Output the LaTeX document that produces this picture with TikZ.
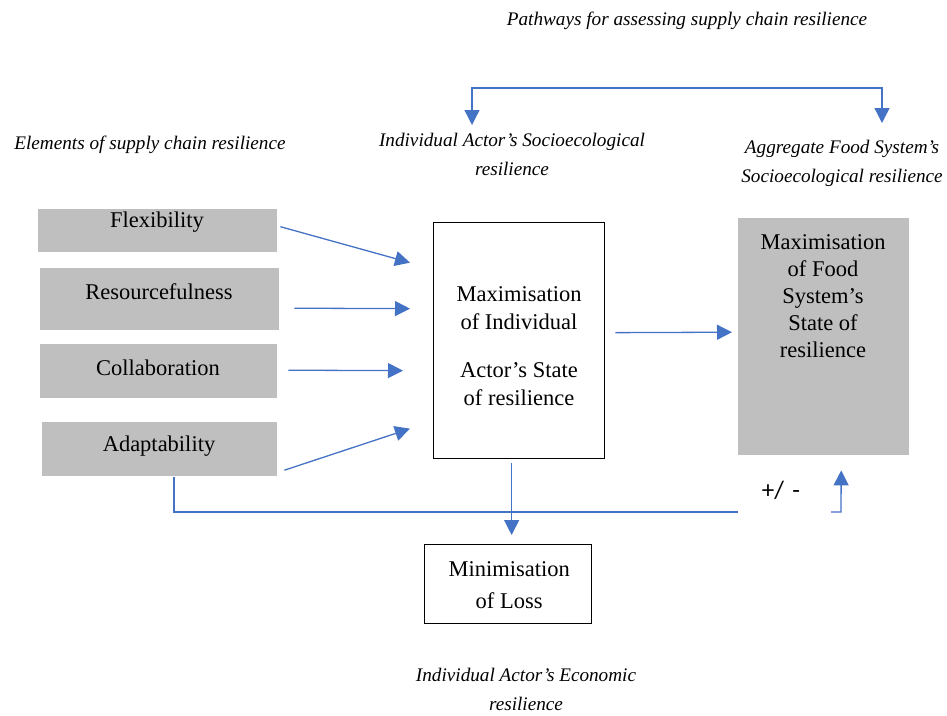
\documentclass[tikz,border=0pt]{standalone}
\usepackage{fontspec}
\setmainfont{Liberation Serif}
\newfontfamily\plusfont{Carlito}
\usetikzlibrary{arrows.meta,calc}
\definecolor{boxgrey}{HTML}{BFBFBF}
\definecolor{linkblue}{HTML}{4472C4}
\begin{document}
\begin{tikzpicture}[x=1pt,y=-1pt,
  every node/.style={font=\fontsize{22.5}{28}\selectfont, inner sep=0pt},
  greybox/.style={fill=boxgrey, draw=none, anchor=north west},
  whitebox/.style={draw=black, line width=1.3pt, fill=white, anchor=north west},
  caption/.style={font=\fontsize{19.2}{29}\selectfont\itshape, align=center},
  link/.style={draw=linkblue, line width=1.3pt},
  arr/.style={link, -{Triangle[length=15pt,width=15pt]}}]
\useasboundingbox (0,0) rectangle (947,715);

% headings
\node[caption] (title) at (687,21) {Pathways for assessing supply chain resilience};
\node[caption] (elements) at (150,145) {Elements of supply chain resilience};
\node[caption] (indsoc) at (512,154) {Individual Actor's Socioecological\\resilience};
\node[caption] (aggsoc) at (842,163) {Aggregate Food System's\\Socioecological resilience};
\node[caption] (econ) at (526,689) {Individual Actor's Economic\\resilience};

% elements of resilience
\node[greybox, minimum width=239, minimum height=43] (flex) at (38,209) {};
\node (flexT) at (157,222) {Flexibility};
\node[greybox, minimum width=239, minimum height=62] (res) at (40,268) {};
\node (resT) at (159,292) {Resourcefulness};
\node[greybox, minimum width=237, minimum height=54] (coll) at (40,344) {};
\node (collT) at (158,368) {Collaboration};
\node[greybox, minimum width=235, minimum height=54] (adapt) at (42,422) {};
\node (adaptT) at (159,446) {Adaptability};

% states of resilience
\node[whitebox, minimum width=171, minimum height=236] (actor) at (433,222) {};
\node[align=center] (actorT) at (519,346) {Maximisation\\of Individual\\[20pt]Actor's State\\of resilience};
\node[greybox, minimum width=171, minimum height=237] (food) at (738,218) {};
\node[align=center, anchor=north, font=\fontsize{22.5}{27}\selectfont] (foodT) at (823,234) {Maximisation\\of Food\\System's\\State of\\resilience};
\node[whitebox, minimum width=167, minimum height=79] (loss) at (424,544) {};
\node[align=center] (lossT) at ($(loss.center)+(1,1)$) {Minimisation\\[4pt]of Loss};

\node[font=\plusfont\fontsize{25}{28}\selectfont] (pm) at (781,490) {+/\,\,-};

% elements feeding the individual actor
\draw[arr] ($(flex.east)+(3,-4)$) -- ($(actor.west)+(-23,-78)$);
\draw[arr] ($(res.east)+(15,9)$) -- ($(actor.west)+(-23,-32)$);
\draw[arr] ($(coll.east)+(11,-1)$) -- ($(actor.west)+(-30,30)$);
\draw[arr] ($(adapt.east)+(7,21)$) -- ($(actor.west)+(-23,88)$);

% individual actor to food system and to loss
\draw[arr] ($(actor.east)+(10,-8)$) -- ($(food.west)+(-6,-4.5)$);
\draw[arr] ($(actor.south)+(-7.5,4)$) -- ($(loss.north)+(3.5,-9)$);

% pathways bracket
\coordinate (topL) at (472,125);
\coordinate (topR) at (882,123);
\draw[arr] (topR |- 0,88) -- (topL |- 0,88) -- (topL);
\draw[arr] (topL |- 0,88) -- (topR |- 0,88) -- (topR);

% feedback line to the food system
\coordinate (fbEnd) at (738,512);
\coordinate (fbStart) at (831,512);
\draw[link] ($(adapt.south west)+(132,1)$) |- (fbEnd);
\draw[arr] (fbStart) -- (841,512) -- ($(food.south)+(17.5,15)$);
\end{tikzpicture}
\end{document}
